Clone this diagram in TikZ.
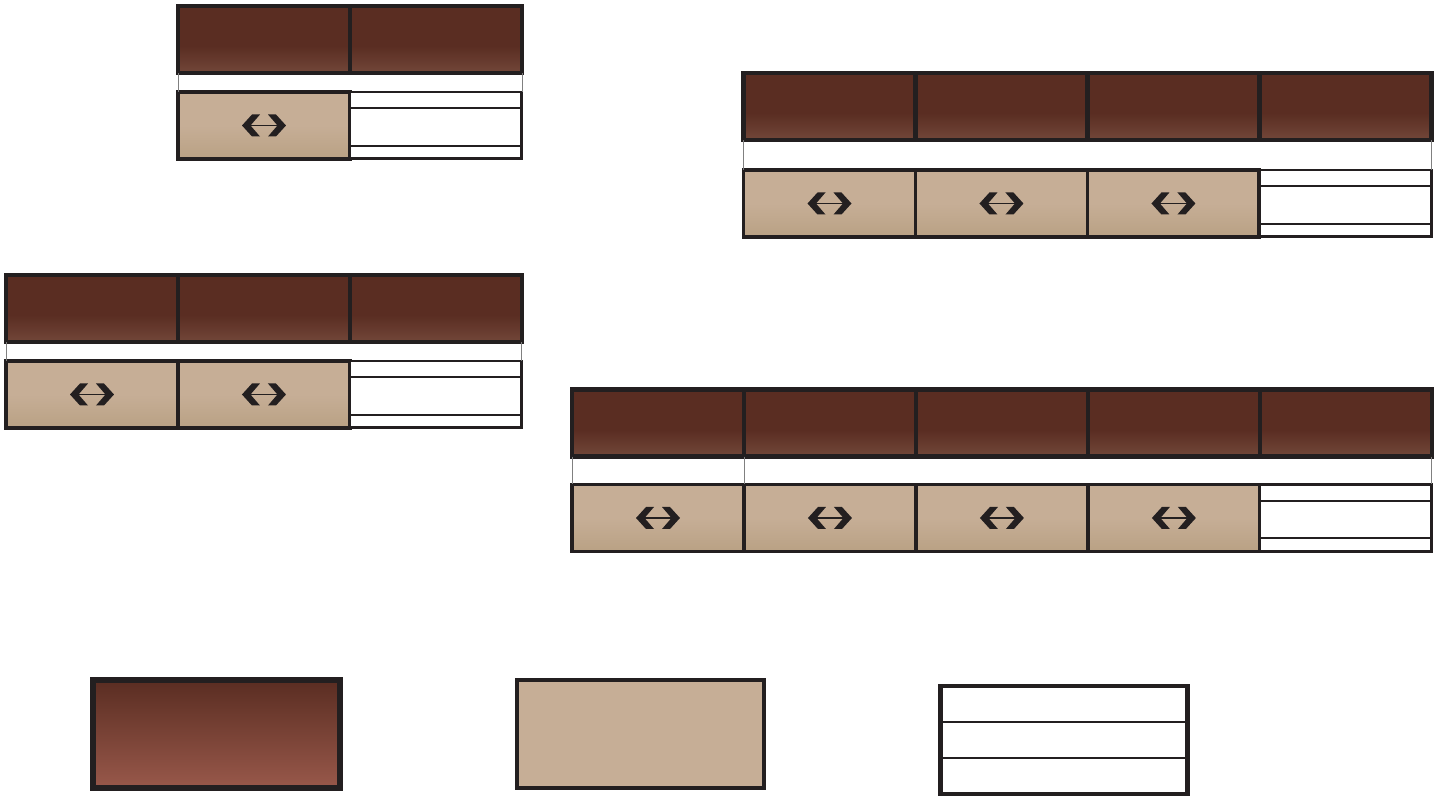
\documentclass[tikz,border=0pt]{standalone}
\usetikzlibrary{positioning,calc}

\definecolor{rimclr}{HTML}{231F20}
\definecolor{brdark}{HTML}{5A2D22}
\definecolor{brmid}{HTML}{724739}
\definecolor{brlight}{HTML}{98584A}
\definecolor{tanclr}{HTML}{C6AE96}
\definecolor{tandark}{HTML}{B9A184}

\pgfdeclareverticalshading{topshade}{100bp}{color(0bp)=(brmid); color(25bp)=(brmid); color(45bp)=(brdark); color(100bp)=(brdark)}
\pgfdeclareverticalshading{tanshade}{100bp}{color(0bp)=(tandark); color(25bp)=(tandark); color(50bp)=(tanclr); color(100bp)=(tanclr)}

\tikzset{
  cell/.style={rectangle, inner sep=0pt, outer sep=0pt, minimum width=3.44cm, minimum height=1.34cm},
  topcell/.style={cell, draw=rimclr, line width=2.6pt, shading=topshade},
  swapcell/.style={cell, draw=rimclr, line width=2.2pt, shading=tanshade,
    path picture={
      \begin{scope}[shift={(path picture bounding box.center)}]
        \draw[rimclr, line width=1pt] (-0.3cm,0cm) -- (0.3cm,0cm);
        \fill[rimclr] (-0.44cm,0cm) -- (-0.24cm,0.22cm) -- (-0.08cm,0.22cm) -- (-0.27cm,0cm)
                      -- (-0.08cm,-0.22cm) -- (-0.24cm,-0.22cm) -- cycle;
        \fill[rimclr] (0.44cm,0cm) -- (0.24cm,0.22cm) -- (0.08cm,0.22cm) -- (0.27cm,0cm)
                      -- (0.08cm,-0.22cm) -- (0.24cm,-0.22cm) -- cycle;
      \end{scope}}},
  lined/.style 2 args={path picture={
      \foreach \f in {#1,#2}
        \draw[rimclr, line width=1.1pt]
          ($(path picture bounding box.north west)!\f!(path picture bounding box.south west)$) --
          ($(path picture bounding box.north east)!\f!(path picture bounding box.south east)$);}},
  emptycell/.style={cell, draw=rimclr, line width=1.7pt, fill=white, lined={0.24}{0.8}},
  gapline/.style={draw=gray, line width=0.5pt},
  keybox/.style={rectangle, inner sep=0pt, outer sep=0pt, minimum width=4.94cm, minimum height=2.16cm}
}

\begin{document}
\begin{tikzpicture}[x=0.02cm, y=-0.02cm]
  \useasboundingbox (0,0) rectangle (1445,796);

  % two columns
  \node[topcell] (g1top1) at (264,39.5) {};
  \node[topcell, right=0pt of g1top1] (g1top2) {};
  \node[swapcell, below=0.38cm of g1top1] (g1bot1) {};
  \node[emptycell, right=0pt of g1bot1] (g1bot2) {};
  \draw[gapline] (g1top1.south west) -- (g1bot1.north west);
  \draw[gapline] (g1top2.south east) -- (g1bot2.north east);

  % four columns
  \node[topcell] (g2top1) at (829.5,106.5) {};
  \node[topcell, right=0pt of g2top1] (g2top2) {};
  \node[topcell, right=0pt of g2top2] (g2top3) {};
  \node[topcell, right=0pt of g2top3] (g2top4) {};
  \node[swapcell, below=0.6cm of g2top1] (g2bot1) {};
  \node[swapcell, right=0pt of g2bot1] (g2bot2) {};
  \node[swapcell, right=0pt of g2bot2] (g2bot3) {};
  \node[emptycell, right=0pt of g2bot3] (g2bot4) {};
  \draw[gapline] (g2top1.south west) -- (g2bot1.north west);
  \draw[gapline] (g2top4.south east) -- (g2bot4.north east);

  % three columns
  \node[topcell] (g3top1) at (92,308.5) {};
  \node[topcell, right=0pt of g3top1] (g3top2) {};
  \node[topcell, right=0pt of g3top2] (g3top3) {};
  \node[swapcell, below=0.38cm of g3top1] (g3bot1) {};
  \node[swapcell, right=0pt of g3bot1] (g3bot2) {};
  \node[emptycell, right=0pt of g3bot2] (g3bot3) {};
  \draw[gapline] (g3top1.south west) -- (g3bot1.north west);
  \draw[gapline] (g3top3.south east) -- (g3bot3.north east);

  % five columns
  \node[topcell] (g4top1) at (658,423) {};
  \node[topcell, right=0pt of g4top1] (g4top2) {};
  \node[topcell, right=0pt of g4top2] (g4top3) {};
  \node[topcell, right=0pt of g4top3] (g4top4) {};
  \node[topcell, right=0pt of g4top4] (g4top5) {};
  \node[swapcell, below=0.56cm of g4top1] (g4bot1) {};
  \node[swapcell, right=0pt of g4bot1] (g4bot2) {};
  \node[swapcell, right=0pt of g4bot2] (g4bot3) {};
  \node[swapcell, right=0pt of g4bot3] (g4bot4) {};
  \node[emptycell, right=0pt of g4bot4] (g4bot5) {};
  \draw[gapline] (g4top1.south west) -- (g4bot1.north west);
  \draw[gapline] (g4top2.south west) -- (g4bot2.north west);
  \draw[gapline] (g4top5.south east) -- (g4bot5.north east);

  % key
  \node[keybox, draw=rimclr, line width=3pt, top color=brdark, bottom color=brlight] (keybrown) at (216.5,734) {};
  \node[keybox, draw=rimclr, line width=2.4pt, fill=tanclr, right=3.54cm of keybrown] (keytan) {};
  \node[keybox, draw=rimclr, line width=2.8pt, fill=white, lined={0.333}{0.667}, right=3.54cm of keytan, yshift=-0.12cm] (keyempty) {};
\end{tikzpicture}
\end{document}
